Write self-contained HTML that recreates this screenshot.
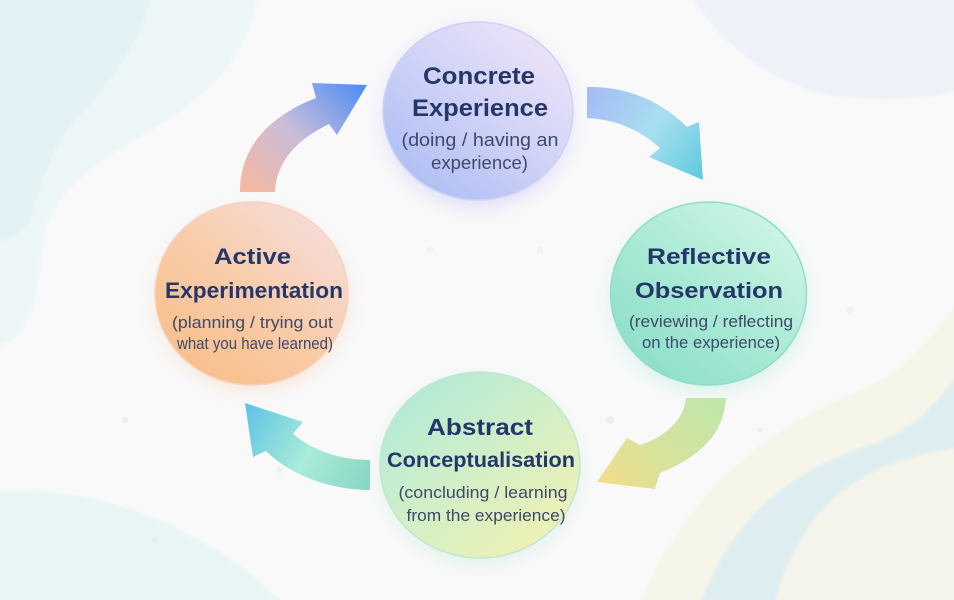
<!DOCTYPE html>
<html>
<head>
<meta charset="utf-8">
<style>
  html, body { margin:0; padding:0; background:#f9f9fa; }
  svg { display:block; }
  .h { font-family:"Liberation Sans", sans-serif; font-weight:bold; fill:#25376a; }
  .s { font-family:"Liberation Sans", sans-serif; fill:#3f4969; }
</style>
</head>
<body>
<svg width="954" height="600" viewBox="0 0 954 600" xmlns="http://www.w3.org/2000/svg">
  <defs>
    <linearGradient id="gTop" x1="0.85" y1="0.1" x2="0.15" y2="0.9">
      <stop offset="0" stop-color="#ece2f8"/>
      <stop offset="0.5" stop-color="#cfd2f7"/>
      <stop offset="1" stop-color="#afbff4"/>
    </linearGradient>
    <linearGradient id="gAct" x1="0.85" y1="0.1" x2="0.15" y2="0.9">
      <stop offset="0" stop-color="#f6dcd8"/>
      <stop offset="0.5" stop-color="#f8cca9"/>
      <stop offset="1" stop-color="#f8bf8c"/>
    </linearGradient>
    <linearGradient id="gRef" x1="0.85" y1="0.1" x2="0.15" y2="0.9">
      <stop offset="0" stop-color="#cdf4e3"/>
      <stop offset="0.5" stop-color="#aaead6"/>
      <stop offset="1" stop-color="#8fdfca"/>
    </linearGradient>
    <linearGradient id="gAbs" x1="0.15" y1="0.1" x2="0.85" y2="0.9">
      <stop offset="0" stop-color="#b3ead7"/>
      <stop offset="0.5" stop-color="#d2efc6"/>
      <stop offset="1" stop-color="#eef1b5"/>
    </linearGradient>

    <linearGradient id="aTL" gradientUnits="userSpaceOnUse" x1="255" y1="192" x2="367" y2="85">
      <stop offset="0" stop-color="#f3b8a4"/>
      <stop offset="0.45" stop-color="#c9bcd9"/>
      <stop offset="1" stop-color="#4a8cf5"/>
    </linearGradient>
    <linearGradient id="aTR" gradientUnits="userSpaceOnUse" x1="587" y1="100" x2="703" y2="180">
      <stop offset="0" stop-color="#a6bcf5"/>
      <stop offset="0.5" stop-color="#a8dff0"/>
      <stop offset="1" stop-color="#5ec9de"/>
    </linearGradient>
    <linearGradient id="aBR" gradientUnits="userSpaceOnUse" x1="705" y1="398" x2="600" y2="485">
      <stop offset="0" stop-color="#c2e6a8"/>
      <stop offset="0.5" stop-color="#d6e39c"/>
      <stop offset="1" stop-color="#f2dc8a"/>
    </linearGradient>
    <linearGradient id="aBL" gradientUnits="userSpaceOnUse" x1="370" y1="475" x2="245" y2="405">
      <stop offset="0" stop-color="#8ad7c6"/>
      <stop offset="0.45" stop-color="#a9ecd8"/>
      <stop offset="1" stop-color="#5fc2e6"/>
    </linearGradient>

    <filter id="blur" x="-50%" y="-50%" width="200%" height="200%">
      <feGaussianBlur stdDeviation="10"/>
    </filter>
    <filter id="blurBig" x="-10%" y="-10%" width="120%" height="120%">
      <feGaussianBlur stdDeviation="1.5"/>
    </filter>
  </defs>

  <!-- background -->
  <rect x="0" y="0" width="954" height="600" fill="#f9f9fa"/>
  <g filter="url(#blurBig)">
    <path d="M-5,-5 L257,-5 C252,40 225,85 160,125 C100,160 60,185 45,230 C38,270 40,300 25,325 C15,340 8,345 -5,347 Z" fill="#edf6f7"/>
    <path d="M-5,-5 L153,-5 C140,40 115,80 75,120 C50,150 40,190 30,220 C20,235 10,240 -5,242 Z" fill="#e2f2f4"/>
    <path d="M690,-5 C720,40 760,80 830,95 C880,103 920,100 960,90 L960,-5 Z" fill="#eef2f8"/>
    <path d="M-5,490 C60,488 120,500 180,530 C230,555 260,580 285,605 L-5,605 Z" fill="#e9f5f4"/>
    <path d="M640,605 C680,500 760,430 860,390 C910,370 935,330 960,300 L960,605 Z" fill="#f6f5ea"/>
    <path d="M700,605 C730,520 790,470 870,445 C915,430 940,400 960,370 L960,605 Z" fill="#deeef0"/>
    <path d="M775,605 C795,520 850,460 960,448 L960,605 Z" fill="#f5f4ea"/>
  </g>

  <!-- speckles -->
  <g opacity="0.35">
    <circle cx="200" cy="340" r="4" fill="#f5d3b5"/>
    <circle cx="125" cy="420" r="3" fill="#f3c9b8"/>
    <circle cx="280" cy="470" r="3" fill="#cfe0f0"/>
    <circle cx="610" cy="420" r="4" fill="#bfe6e4"/>
    <circle cx="660" cy="305" r="3" fill="#cde7f0"/>
    <circle cx="540" cy="250" r="3" fill="#dde3f5"/>
    <circle cx="430" cy="250" r="3" fill="#f3e0d0"/>
    <circle cx="850" cy="310" r="4" fill="#cfeaea"/>
    <circle cx="760" cy="430" r="3" fill="#cde9e6"/>
    <circle cx="155" cy="540" r="3" fill="#d8e0f2"/>
  </g>

  <!-- glows -->
  <g filter="url(#blur)" opacity="0.45">
    <ellipse cx="478" cy="118" rx="92" ry="88" fill="#b9b4f2"/>
    <ellipse cx="252" cy="300" rx="94" ry="89" fill="#f6c9a8"/>
    <ellipse cx="709" cy="300" rx="95" ry="89" fill="#9fe3d2"/>
    <ellipse cx="480" cy="472" rx="97" ry="91" fill="#bfe6cf"/>
  </g>

  <!-- arrows -->
  <path d="M240,192 C240,150 265,118 316,98 L312,83 L367,85 L337,135 L329,124 C300,138 276,160 275,192 Z" fill="url(#aTL)"/>
  <path d="M587,87 C625,86 660,100 687,127 L699,122 L703,180 L649,157 L660,148 C640,130 615,119 587,118 Z" fill="url(#aTR)"/>
  <path d="M726,398 C724,430 705,455 660,473 L655,489 L597,482 L627,438 L640,445 C665,437 684,420 686,398 Z" fill="url(#aBR)"/>
  <path d="M370,460 C340,460 312,450 293,434 L303,422 L245,403 L253,457 L266,451 C290,475 330,490 370,490 Z" fill="url(#aBL)"/>

  <!-- circles -->
  <ellipse cx="478" cy="111" rx="95" ry="89" fill="url(#gTop)" stroke="#cdd2f7" stroke-width="1.5"/>
  <ellipse cx="251.5" cy="293.5" rx="96.5" ry="91.5" fill="url(#gAct)" stroke="#f8d2bd" stroke-width="1.5"/>
  <ellipse cx="708.5" cy="293.5" rx="98" ry="91.5" fill="url(#gRef)" stroke="#8fdec8" stroke-width="1.5"/>
  <ellipse cx="480" cy="465" rx="100" ry="93" fill="url(#gAbs)" stroke="#bfe8cf" stroke-width="1.5"/>

  <!-- Concrete Experience -->
  <text class="h" x="479" y="84" font-size="24" text-anchor="middle" textLength="112" lengthAdjust="spacingAndGlyphs">Concrete</text>
  <text class="h" x="480" y="116" font-size="24" text-anchor="middle" textLength="136" lengthAdjust="spacingAndGlyphs">Experience</text>
  <text class="s" x="480" y="146" font-size="18" text-anchor="middle" textLength="157" lengthAdjust="spacingAndGlyphs">(doing / having an</text>
  <text class="s" x="479.5" y="169" font-size="18" text-anchor="middle" textLength="97" lengthAdjust="spacingAndGlyphs">experience)</text>

  <!-- Active Experimentation -->
  <text class="h" x="252.5" y="264" font-size="22" text-anchor="middle" textLength="77" lengthAdjust="spacingAndGlyphs">Active</text>
  <text class="h" x="254" y="298" font-size="22" text-anchor="middle" textLength="178" lengthAdjust="spacingAndGlyphs">Experimentation</text>
  <text class="s" x="252.5" y="328" font-size="17" text-anchor="middle" textLength="161" lengthAdjust="spacingAndGlyphs">(planning / trying out</text>
  <text class="s" x="255" y="349" font-size="17" text-anchor="middle" textLength="156" lengthAdjust="spacingAndGlyphs">what you have learned)</text>

  <!-- Reflective Observation -->
  <text class="h" x="709" y="264" font-size="22" text-anchor="middle" textLength="124" lengthAdjust="spacingAndGlyphs">Reflective</text>
  <text class="h" x="709" y="298" font-size="22" text-anchor="middle" textLength="148" lengthAdjust="spacingAndGlyphs">Observation</text>
  <text class="s" x="711" y="327" font-size="17" text-anchor="middle" textLength="164" lengthAdjust="spacingAndGlyphs">(reviewing / reflecting</text>
  <text class="s" x="711" y="348" font-size="17" text-anchor="middle" textLength="138" lengthAdjust="spacingAndGlyphs">on the experience)</text>

  <!-- Abstract Conceptualisation -->
  <text class="h" x="480" y="435" font-size="23" text-anchor="middle" textLength="106" lengthAdjust="spacingAndGlyphs">Abstract</text>
  <text class="h" x="481" y="467" font-size="21" text-anchor="middle" textLength="188" lengthAdjust="spacingAndGlyphs">Conceptualisation</text>
  <text class="s" x="483" y="498" font-size="17" text-anchor="middle" textLength="169" lengthAdjust="spacingAndGlyphs">(concluding / learning</text>
  <text class="s" x="486" y="521" font-size="17" text-anchor="middle" textLength="159" lengthAdjust="spacingAndGlyphs">from the experience)</text>
</svg>
</body>
</html>
